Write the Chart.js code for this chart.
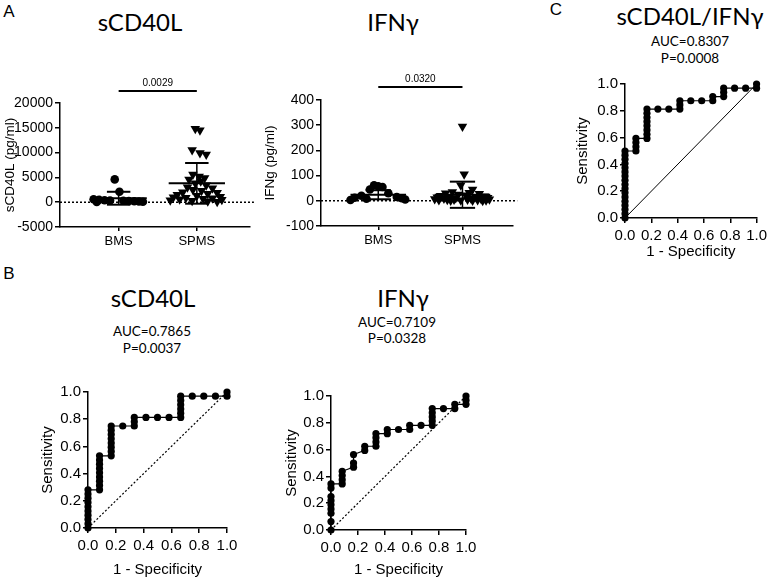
<!DOCTYPE html>
<html lang="en">
<head>
<meta charset="UTF-8" />
<title>sCD40L and IFNγ: BMS vs SPMS</title>
<style>
  body { margin: 0; background: #fff; }
  #fig { position: relative; width: 771px; height: 579px; overflow: hidden; }
  #fig canvas { position: absolute; }
  .lbl { position: absolute; transform: translate(-50%, -50%); white-space: nowrap; line-height: 1; color: #000; }
  .panel { font: 17px "Liberation Sans", Arial, sans-serif; }
  .title { font: 24px Lato, sans-serif; }
  .stat { font: 13.5px Lato, sans-serif; }
</style>
</head>
<body>
<div id="fig">
  <div class="lbl panel" style="left:9px;top:12px">A</div>
  <div class="lbl title" style="left:140px;top:21px">sCD40L</div>
  <div class="lbl title" style="left:393px;top:21px">IFNγ</div>

  <div class="lbl panel" style="left:556px;top:10px">C</div>
  <div class="lbl title" style="left:690px;top:15px">sCD40L/IFNγ</div>
  <div class="lbl stat" style="left:690px;top:41px">AUC=0.8307</div>
  <div class="lbl stat" style="left:690px;top:58px">P=0.0008</div>

  <div class="lbl panel" style="left:9px;top:274px">B</div>
  <div class="lbl title" style="left:153px;top:297px">sCD40L</div>
  <div class="lbl stat" style="left:152px;top:331px">AUC=0.7865</div>
  <div class="lbl stat" style="left:152px;top:348px">P=0.0037</div>
  <div class="lbl title" style="left:403px;top:297px">IFNγ</div>
  <div class="lbl stat" style="left:397px;top:322px">AUC=0.7109</div>
  <div class="lbl stat" style="left:397px;top:338px">P=0.0328</div>

  <canvas id="dotCd40" width="260" height="200" style="left:0;top:60px"></canvas>
  <canvas id="dotIfn" width="260" height="200" style="left:260px;top:60px"></canvas>
  <canvas id="rocRatio" width="251" height="200" style="left:520px;top:70px"></canvas>
  <canvas id="rocCd40" width="260" height="209" style="left:0;top:370px"></canvas>
  <canvas id="rocIfn" width="260" height="209" style="left:260px;top:370px"></canvas>
</div>

<script src="https://cdn.jsdelivr.net/npm/chart.js"></script>
<script>
// --- data ---
const groups = ['BMS', 'SPMS'];

// sCD40L (pg/ml)
const cd40Bms = [4600, 2100, 600, 500, 400, 350, 300, 250, 200, 150, 100, 50];
const cd40BmsJit = [-0.05, 0.01, -0.32, -0.25, -0.18, -0.11, 0.06, 0.13, 0.2, 0.26, 0.31, -0.28];
const cd40Spms = [14800, 14500, 10500, 9900, 9600, 5600, 5200, 4900, 4600, 4200, 3800, 3400, 3000, 2800, 2500, 2300,
                  2000, 1900, 1700, 1500, 1300, 1100, 1000, 900, 800, 700, 600, 500, 400, 300, 200, 100];
const cd40SpmsJit = [-0.02, 0.04, -0.06, 0.04, 0.12, -0.05, 0.03, 0.1, -0.1, 0.05, -0.02, 0.12, -0.12, 0.2, -0.05, 0.06,
                     -0.18, 0.26, 0.14, -0.25, 0.0, 0.3, -0.3, -0.14, 0.2, 0.08, -0.22, 0.32, -0.34, -0.06, 0.14, 0.26];
const cd40Mean = [800, 3800];
const cd40Sd = [1300, 4100];
const cd40P = '0.0029';

// IFNg (pg/ml)
const ifnBms = [62, 58, 55, 45, 30, 20, 15, 12, 10, 8, 5, 3];
const ifnBmsJit = [-0.05, 0.0, 0.05, -0.1, 0.12, -0.2, 0.22, -0.28, 0.28, -0.14, 0.32, -0.33];
const ifnSpms = [295, 105, 62, 45, 35, 32, 30, 28, 25, 22, 20, 18, 16, 15, 14, 12,
                 11, 10, 9, 8, 7, 6, 5, 5, 4, 3, 3, 2, 2, 1, 1, 0];
const ifnSpmsJit = [0.0, 0.02, -0.02, 0.12, -0.12, 0.08, -0.2, 0.2, -0.05, 0.04, -0.26, 0.26, -0.16, 0.16, -0.3, 0.3,
                    -0.08, 0.1, -0.22, 0.22, -0.33, 0.32, -0.1, 0.06, -0.18, 0.18, -0.28, 0.28, -0.02, 0.12, -0.14, 0.24];
const ifnMean = [24, 24];
const ifnSd = [18, 52];
const ifnP = '0.0320';

// ROC curves (1 - specificity, sensitivity)
const rocCd40Fpr = [0, 0, 0, 0, 0, 0, 0, 0, 0, 0,
  0.083, 0.083, 0.083, 0.083, 0.083, 0.083, 0.083, 0.083, 0.083,
  0.167, 0.167, 0.167, 0.167, 0.167, 0.167, 0.167, 0.167,
  0.25, 0.333, 0.333, 0.333, 0.417, 0.5, 0.583,
  0.667, 0.667, 0.667, 0.667, 0.667, 0.667, 0.75, 0.833, 0.917, 1, 1];
const rocCd40Tpr = [0, 0.031, 0.063, 0.094, 0.125, 0.156, 0.188, 0.219, 0.25, 0.281,
  0.281, 0.313, 0.344, 0.375, 0.406, 0.438, 0.469, 0.5, 0.531,
  0.531, 0.563, 0.594, 0.625, 0.656, 0.688, 0.719, 0.75,
  0.75, 0.75, 0.781, 0.813, 0.813, 0.813, 0.813,
  0.813, 0.844, 0.875, 0.906, 0.938, 0.969, 0.969, 0.969, 0.969, 0.969, 1];

const rocIfnFpr = [0, 0, 0, 0, 0, 0, 0, 0, 0,
  0.083, 0.083, 0.083, 0.083, 0.167, 0.167, 0.167, 0.25, 0.25,
  0.333, 0.333, 0.333, 0.333, 0.417, 0.417, 0.5, 0.583, 0.583, 0.667,
  0.75, 0.75, 0.75, 0.75, 0.75, 0.833, 0.917, 0.917, 1, 1, 1];
const rocIfnTpr = [0, 0.063, 0.125, 0.156, 0.188, 0.219, 0.25, 0.313, 0.344,
  0.344, 0.375, 0.406, 0.438, 0.469, 0.5, 0.563, 0.594, 0.625,
  0.625, 0.656, 0.688, 0.719, 0.719, 0.75, 0.75, 0.75, 0.781, 0.781,
  0.781, 0.813, 0.844, 0.875, 0.906, 0.906, 0.906, 0.938, 0.938, 0.969, 1];

const rocRatioFpr = [0, 0, 0, 0, 0, 0, 0, 0, 0, 0, 0, 0, 0, 0, 0, 0, 0,
  0.083, 0.083, 0.083, 0.083,
  0.167, 0.167, 0.167, 0.167, 0.167, 0.167, 0.167, 0.167,
  0.25, 0.333, 0.417, 0.417, 0.417, 0.5, 0.583, 0.667, 0.667,
  0.75, 0.75, 0.75, 0.833, 0.917, 1, 1];
const rocRatioTpr = [0, 0.031, 0.063, 0.094, 0.125, 0.156, 0.188, 0.219, 0.25, 0.281, 0.313, 0.344, 0.375, 0.406, 0.438, 0.469, 0.5,
  0.5, 0.531, 0.563, 0.594,
  0.594, 0.625, 0.656, 0.688, 0.719, 0.75, 0.781, 0.813,
  0.813, 0.813, 0.813, 0.844, 0.875, 0.875, 0.875, 0.875, 0.906,
  0.906, 0.938, 0.969, 0.969, 0.969, 0.969, 1];

// --- drawing ---
const FONT = "'Liberation Sans', Arial, sans-serif";
Chart.defaults.color = '#000';
Chart.defaults.font.family = FONT;

// p-value text above the significance bar
const sigLabel = {
  id: 'sigLabel',
  afterDatasetsDraw(chart, args, opts) {
    if (!opts.text) return;
    const ctx = chart.ctx;
    ctx.save();
    ctx.font = '10px ' + FONT;
    ctx.fillStyle = '#000';
    ctx.textAlign = 'center';
    ctx.textBaseline = 'bottom';
    ctx.fillText(opts.text, chart.scales.x.getPixelForValue(opts.x), chart.scales.y.getPixelForValue(opts.y) - 3);
    ctx.restore();
  }
};

function pts(xs, ys) {
  return xs.map((x, i) => ({ x: x, y: ys[i] }));
}

function lineSet(data, width, dash) {
  return { type: 'line', data: data, borderColor: '#000', borderWidth: width, borderDash: dash || [],
           pointRadius: 0, fill: false, clip: false, order: 0 };
}

function groupSets(vals, jit, center, style, mean, sd, half) {
  return [
    { type: 'scatter', data: vals.map((v, i) => ({ x: center + jit[i], y: v })),
      pointStyle: style, rotation: style === 'triangle' ? 180 : 0,
      pointRadius: style === 'triangle' ? 5.5 : 4.3, backgroundColor: '#000', borderColor: '#000',
      borderWidth: 0, clip: false, order: 1 },
    lineSet([{ x: center - half, y: mean }, { x: center + half, y: mean }], 2),
    lineSet([{ x: center, y: mean - sd }, { x: center, y: mean + sd }], 1.5),
    lineSet([{ x: center - 0.15, y: mean + sd }, { x: center + 0.15, y: mean + sd }], 2),
    lineSet([{ x: center - 0.15, y: mean - sd }, { x: center + 0.15, y: mean - sd }], 2)
  ];
}

function dotChart(id, o) {
  const sets = [].concat(
    groupSets(o.bms, o.bmsJit, 1, 'circle', o.mean[0], o.sd[0], o.half),
    groupSets(o.spms, o.spmsJit, 2, 'triangle', o.mean[1], o.sd[1], o.half),
    [lineSet([{ x: o.xMin, y: 0 }, { x: o.xMax + 0.05, y: 0 }], 1.5, [2, 2]),
     lineSet([{ x: 1, y: o.sigY }, { x: 2, y: o.sigY }], 2)]
  );
  new Chart(document.getElementById(id), {
    type: 'scatter',
    data: { datasets: sets },
    plugins: [sigLabel],
    options: {
      responsive: false, animation: false, devicePixelRatio: 1,
      layout: { padding: o.pad },
      plugins: { legend: { display: false }, tooltip: { enabled: false },
                 sigLabel: { text: o.p, x: 1.5, y: o.sigY } },
      scales: {
        x: {
          type: 'linear', min: o.xMin, max: o.xMax,
          afterBuildTicks: s => { s.ticks = [{ value: 1 }, { value: 2 }]; },
          ticks: { callback: v => groups[v - 1], font: { size: 13 }, padding: 3, maxRotation: 0 },
          grid: { drawOnChartArea: false, tickLength: 4, color: '#000', lineWidth: 1.5 },
          border: { color: '#000', width: 1.5 },
          afterFit: s => { s.height = o.xH; }
        },
        y: {
          min: o.yMin, max: o.yMax,
          ticks: { stepSize: o.step, callback: v => String(v), font: { size: 14 }, padding: 2 },
          grid: { drawOnChartArea: false, tickLength: 5, color: '#000', lineWidth: 1.5 },
          border: { color: '#000', width: 1.5 },
          title: { display: true, text: o.yTitle, font: { size: 13.5 }, padding: { top: 2, bottom: 0 } },
          afterFit: s => { s.width = o.yW; }
        }
      }
    }
  });
}

function rocChart(id, fpr, tpr, o) {
  new Chart(document.getElementById(id), {
    type: 'scatter',
    data: {
      datasets: [
        { type: 'line', data: pts(fpr, tpr), borderColor: '#000', borderWidth: 1.2, backgroundColor: '#000',
          pointRadius: 3.6, pointBorderWidth: 0, pointBackgroundColor: '#000', fill: false, clip: false, order: 0 },
        lineSet([{ x: 0, y: 0 }, { x: 1, y: 1 }], o.dash ? 1.2 : 1, o.dash)
      ]
    },
    options: {
      responsive: false, animation: false, devicePixelRatio: 1,
      layout: { padding: o.pad },
      plugins: { legend: { display: false }, tooltip: { enabled: false } },
      scales: {
        x: {
          type: 'linear', min: 0, max: 1,
          ticks: { stepSize: 0.2, callback: v => v.toFixed(1), font: { size: 15 }, padding: 4, maxRotation: 0 },
          grid: { drawOnChartArea: false, tickLength: 5, color: '#000', lineWidth: 1.5 },
          border: { color: '#000', width: 1.5 },
          title: { display: true, text: '1 - Specificity', font: { size: 15 }, padding: { top: 0, bottom: o.xTitlePad } },
          afterFit: s => { s.height = o.xH; }
        },
        y: {
          min: 0, max: 1,
          ticks: { stepSize: 0.2, callback: v => v.toFixed(1), font: { size: 15 }, padding: 2 },
          grid: { drawOnChartArea: false, tickLength: 5, color: '#000', lineWidth: 1.5 },
          border: { color: '#000', width: 1.5 },
          title: { display: true, text: 'Sensitivity', font: { size: 15 }, padding: { top: 9, bottom: 0 } },
          afterFit: s => { s.width = o.yW; }
        }
      }
    }
  });
}

dotChart('dotCd40', {
  bms: cd40Bms, bmsJit: cd40BmsJit, spms: cd40Spms, spmsJit: cd40SpmsJit,
  mean: cd40Mean, sd: cd40Sd, p: cd40P, sigY: 22400, half: 0.36,
  xMin: 0.25, xMax: 2.68, yMin: -5000, yMax: 20000, step: 5000,
  yTitle: 'sCD40L (pg/ml)', yW: 60, xH: 33, pad: { left: 0, top: 43, right: 10, bottom: 0 }
});

dotChart('dotIfn', {
  bms: ifnBms, bmsJit: ifnBmsJit, spms: ifnSpms, spmsJit: ifnSpmsJit,
  mean: ifnMean, sd: ifnSd, p: ifnP, sigY: 452, half: 0.33,
  xMin: 0.32, xMax: 2.6, yMin: -100, yMax: 400, step: 100,
  yTitle: 'IFNg (pg/ml)', yW: 61, xH: 34, pad: { left: 0, top: 40, right: 7, bottom: 0 }
});

rocChart('rocRatio', rocRatioFpr, rocRatioTpr, {
  dash: null, yW: 60, xH: 52, xTitlePad: 9, pad: { left: 45, top: 14, right: 11, bottom: 0 }
});

rocChart('rocCd40', rocCd40Fpr, rocCd40Tpr, {
  dash: [2, 2], yW: 58, xH: 51, xTitlePad: 0, pad: { left: 30, top: 22, right: 33, bottom: 0 }
});

rocChart('rocIfn', rocIfnFpr, rocIfnTpr, {
  dash: [2, 2], yW: 57, xH: 49, xTitlePad: 0, pad: { left: 14, top: 26, right: 54, bottom: 0 }
});
</script>
</body>
</html>
